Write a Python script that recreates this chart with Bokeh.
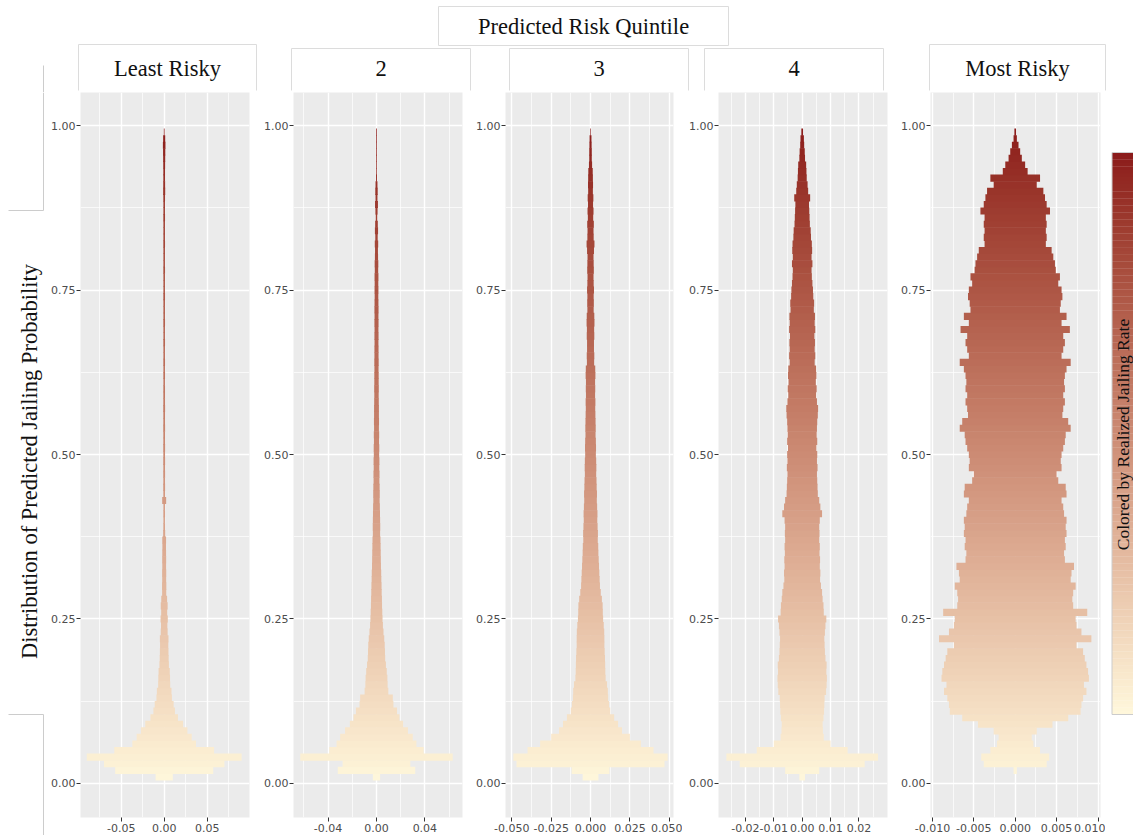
import math
from bokeh.plotting import figure
from bokeh.models import Range1d, FixedTicker, NumeralTickFormatter, ColumnDataSource
from bokeh.layouts import row, column
from bokeh.core.properties import value
from bokeh.embed import file_html
from bokeh.resources import INLINE

# ---------------- data ----------------
title_text = "Predicted Risk Quintile"
y_axis_title = "Distribution of Predicted Jailing Probability"
colorbar_title = "Colored by Realized Jailing Rate"
quintile_labels = ["Least Risky", "2", "3", "4", "Most Risky"]

# predicted jailing probability bins (centres)
y_bins = [0.01, 0.02, 0.03, 0.04, 0.05, 0.06, 0.07, 0.08, 0.09, 0.10,
          0.11, 0.12, 0.13, 0.14, 0.15, 0.16, 0.17, 0.18, 0.19, 0.20,
          0.21, 0.22, 0.23, 0.24, 0.25, 0.26, 0.27, 0.28, 0.29, 0.30,
          0.31, 0.32, 0.33, 0.34, 0.35, 0.36, 0.37, 0.38, 0.39, 0.40,
          0.41, 0.42, 0.43, 0.44, 0.45, 0.46, 0.47, 0.48, 0.49, 0.50,
          0.51, 0.52, 0.53, 0.54, 0.55, 0.56, 0.57, 0.58, 0.59, 0.60,
          0.61, 0.62, 0.63, 0.64, 0.65, 0.66, 0.67, 0.68, 0.69, 0.70,
          0.71, 0.72, 0.73, 0.74, 0.75, 0.76, 0.77, 0.78, 0.79, 0.80,
          0.81, 0.82, 0.83, 0.84, 0.85, 0.86, 0.87, 0.88, 0.89, 0.90,
          0.91, 0.92, 0.93, 0.94, 0.95, 0.96, 0.97, 0.98, 0.99]

# half-width of the distribution at each bin (one list per quintile)
half_width_q1 = [0.010, 0.057, 0.070, 0.090, 0.058, 0.037, 0.032, 0.027, 0.022, 0.016,
                 0.0125, 0.0110, 0.0090, 0.0085, 0.0070, 0.0068, 0.0065, 0.0055, 0.0052, 0.0050,
                 0.0048, 0.0050, 0.0040, 0.0037, 0.0042, 0.0035, 0.0040, 0.0034, 0.0024, 0.0025,
                 0.0023, 0.0024, 0.0022, 0.0023, 0.0022, 0.0021, 0.0022, 0.0012, 0.0010, 0.0009,
                 0.0010, 0.0009, 0.0023, 0.0010, 0.0011, 0.0010, 0.0011, 0.0010, 0.0011, 0.0010,
                 0.0011, 0.0010, 0.0010, 0.0011, 0.0010, 0.0010, 0.0011, 0.0010, 0.0010, 0.0010,
                 0.0009, 0.0010, 0.0009, 0.0010, 0.0009, 0.0009, 0.0010, 0.0009, 0.0009, 0.0010,
                 0.0009, 0.0009, 0.0009, 0.0010, 0.0009, 0.0009, 0.0009, 0.0010, 0.0009, 0.0009,
                 0.0009, 0.0010, 0.0009, 0.0009, 0.0009, 0.0010, 0.0009, 0.0009, 0.0010, 0.0012,
                 0.0011, 0.0010, 0.0010, 0.0011, 0.0012, 0.0013, 0.0015, 0.0012, 0.0004]

half_width_q2 = [0.0030, 0.0320, 0.0280, 0.0630, 0.0390, 0.0330, 0.0300, 0.0260, 0.0220, 0.0190,
                 0.0170, 0.0140, 0.0135, 0.0098, 0.0092, 0.0090, 0.0085, 0.0078, 0.0072, 0.0070,
                 0.0068, 0.0064, 0.0058, 0.0053, 0.0050, 0.0048, 0.0046, 0.0045, 0.0043, 0.0042,
                 0.0040, 0.0039, 0.0037, 0.0036, 0.0035, 0.0034, 0.0033, 0.0030, 0.0031, 0.0030,
                 0.0029, 0.0028, 0.0026, 0.0027, 0.0026, 0.0024, 0.0025, 0.0023, 0.0024, 0.0022,
                 0.0023, 0.0021, 0.0022, 0.0020, 0.0021, 0.0020, 0.0020, 0.0019, 0.0018, 0.0019,
                 0.0018, 0.0018, 0.0017, 0.0018, 0.0017, 0.0017, 0.0016, 0.0017, 0.0016, 0.0017,
                 0.0016, 0.0017, 0.0016, 0.0015, 0.0016, 0.0015, 0.0016, 0.0014, 0.0015, 0.0013,
                 0.0012, 0.0014, 0.0010, 0.0013, 0.0011, 0.0006, 0.0009, 0.0012, 0.0008, 0.0010,
                 0.0008, 0.0004, 0.0003, 0.0003, 0.0003, 0.0003, 0.0003, 0.0003, 0.0003]

half_width_q3 = [0.0050, 0.0120, 0.0470, 0.0490, 0.0400, 0.0320, 0.0250, 0.0200, 0.0175, 0.0150,
                 0.0125, 0.0118, 0.0112, 0.0110, 0.0105, 0.0096, 0.0094, 0.0093, 0.0092, 0.0090,
                 0.0088, 0.0088, 0.0087, 0.0084, 0.0080, 0.0078, 0.0077, 0.0072, 0.0065, 0.0060,
                 0.0058, 0.0056, 0.0054, 0.0052, 0.0050, 0.0049, 0.0046, 0.0047, 0.0045, 0.0043,
                 0.0044, 0.0042, 0.0040, 0.0041, 0.0039, 0.0038, 0.0036, 0.0037, 0.0036, 0.0034,
                 0.0035, 0.0034, 0.0032, 0.0033, 0.0032, 0.0031, 0.0030, 0.0031, 0.0029, 0.0030,
                 0.0029, 0.0031, 0.0030, 0.0023, 0.0024, 0.0022, 0.0022, 0.0024, 0.0023, 0.0025,
                 0.0024, 0.0020, 0.0021, 0.0020, 0.0022, 0.0020, 0.0019, 0.0021, 0.0020, 0.0019,
                 0.0022, 0.0025, 0.0020, 0.0019, 0.0021, 0.0017, 0.0019, 0.0016, 0.0018, 0.0015,
                 0.0016, 0.0015, 0.0014, 0.0010, 0.0008, 0.0008, 0.0007, 0.0006, 0.0002]

half_width_q4 = [0.0010, 0.0060, 0.0220, 0.0267, 0.0160, 0.0100, 0.0076, 0.0073, 0.0072, 0.0075,
                 0.0077, 0.0078, 0.0079, 0.0084, 0.0086, 0.0087, 0.0085, 0.0086, 0.0082, 0.0080,
                 0.0079, 0.0078, 0.0080, 0.0082, 0.0085, 0.0076, 0.0075, 0.0072, 0.0070, 0.0066,
                 0.0063, 0.0064, 0.0062, 0.0063, 0.0061, 0.0062, 0.0060, 0.0061, 0.0060, 0.0062,
                 0.0070, 0.0064, 0.0060, 0.0055, 0.0054, 0.0053, 0.0052, 0.0054, 0.0052, 0.0053,
                 0.0050, 0.0053, 0.0051, 0.0052, 0.0053, 0.0055, 0.0056, 0.0052, 0.0049, 0.0051,
                 0.0048, 0.0050, 0.0049, 0.0044, 0.0046, 0.0044, 0.0045, 0.0043, 0.0046, 0.0044,
                 0.0045, 0.0041, 0.0042, 0.0039, 0.0038, 0.0036, 0.0034, 0.0033, 0.0036, 0.0033,
                 0.0035, 0.0034, 0.0031, 0.0030, 0.0027, 0.0026, 0.0025, 0.0024, 0.0028, 0.0021,
                 0.0019, 0.0016, 0.0015, 0.0014, 0.0010, 0.0009, 0.0007, 0.0006, 0.0003]

half_width_q5 = [0.0000, 0.0002, 0.0038, 0.0041, 0.0030, 0.0022, 0.0020, 0.0026, 0.0045, 0.0064,
                 0.0079, 0.0080, 0.0082, 0.0086, 0.0083, 0.0089, 0.0088, 0.0086, 0.0084, 0.0082,
                 0.0074, 0.0092, 0.0080, 0.0074, 0.0073, 0.0087, 0.0070, 0.0069, 0.0070, 0.0073,
                 0.0067, 0.0068, 0.0071, 0.0060, 0.0059, 0.0061, 0.0060, 0.0062, 0.0061, 0.0062,
                 0.0059, 0.0058, 0.0056, 0.0062, 0.0061, 0.0052, 0.0050, 0.0056, 0.0055, 0.0056,
                 0.0058, 0.0060, 0.0061, 0.0067, 0.0064, 0.0057, 0.0058, 0.0060, 0.0058, 0.0060,
                 0.0059, 0.0060, 0.0062, 0.0067, 0.0056, 0.0058, 0.0060, 0.0058, 0.0066, 0.0056,
                 0.0062, 0.0054, 0.0055, 0.0057, 0.0056, 0.0052, 0.0054, 0.0049, 0.0048, 0.0046,
                 0.0044, 0.0037, 0.0038, 0.0037, 0.0038, 0.0037, 0.0042, 0.0038, 0.0036, 0.0034,
                 0.0026, 0.0030, 0.0015, 0.0012, 0.0008, 0.0006, 0.0004, 0.0002, 0.0001]

half_widths = [half_width_q1, half_width_q2, half_width_q3, half_width_q4, half_width_q5]

# axes
x_limits = [(-0.0973, 0.0992), (-0.0686, 0.0711), (-0.0540, 0.0527),
            (-0.02947, 0.03004), (-0.01023, 0.01030)]
x_ticks = [[-0.05, 0.0, 0.05], [-0.04, 0.0, 0.04], [-0.05, -0.025, 0.0, 0.025, 0.05],
           [-0.02, -0.01, 0.0, 0.01, 0.02], [-0.01, -0.005, 0.0, 0.005, 0.01]]
x_minor = [[-0.075, -0.025, 0.025, 0.075], [-0.06, -0.02, 0.02, 0.06],
           [-0.0375, -0.0125, 0.0125, 0.0375], [-0.025, -0.015, -0.005, 0.005, 0.015, 0.025],
           [-0.0075, -0.0025, 0.0025, 0.0075]]
x_formats = ["0.00", "0.00", "0.000", "0.00", "0.000"]
y_limits = (-0.0517, 1.0502)
y_ticks = [0.0, 0.25, 0.5, 0.75, 1.0]
y_minor = [0.125, 0.375, 0.625, 0.875]
rate_domain = (0.0, 1.0)
bin_height = 0.01

# ---------------- colour scale (Lab interpolation, like ggplot) ----------------
LOW, HIGH = "#FFF8DC", "#8B1A1A"
WHITE = (0.95047, 1.0, 1.08883)


def _lin(c):
    c = c / 255.0
    return c / 12.92 if c <= 0.04045 else ((c + 0.055) / 1.055) ** 2.4


def _gam(c):
    c = max(0.0, c)
    c = 12.92 * c if c <= 0.0031308 else 1.055 * c ** (1 / 2.4) - 0.055
    return int(min(255, max(0, round(c * 255))))


def _f(t):
    d = 6 / 29
    return t ** (1 / 3) if t > d ** 3 else t / (3 * d * d) + 4 / 29


def _finv(t):
    d = 6 / 29
    return t ** 3 if t > d else 3 * d * d * (t - 4 / 29)


def to_lab(h):
    r, g, b = [_lin(int(h[i:i + 2], 16)) for i in (1, 3, 5)]
    X = 0.4124564 * r + 0.3575761 * g + 0.1804375 * b
    Y = 0.2126729 * r + 0.7151522 * g + 0.0721750 * b
    Z = 0.0193339 * r + 0.1191920 * g + 0.9503041 * b
    fx, fy, fz = _f(X / WHITE[0]), _f(Y / WHITE[1]), _f(Z / WHITE[2])
    return (116 * fy - 16, 500 * (fx - fy), 200 * (fy - fz))


def from_lab(L, a, b):
    fy = (L + 16) / 116
    fx = fy + a / 500
    fz = fy - b / 200
    X, Y, Z = WHITE[0] * _finv(fx), WHITE[1] * _finv(fy), WHITE[2] * _finv(fz)
    r = 3.2404542 * X - 1.5371385 * Y - 0.4985314 * Z
    g = -0.9692660 * X + 1.8760108 * Y + 0.0415560 * Z
    bb = 0.0556434 * X - 0.2040259 * Y + 1.0572252 * Z
    return "#%02x%02x%02x" % (_gam(r), _gam(g), _gam(bb))


LAB_LO, LAB_HI = to_lab(LOW), to_lab(HIGH)


def rate_color(v):
    t = (v - rate_domain[0]) / (rate_domain[1] - rate_domain[0])
    t = min(1.0, max(0.0, t))
    return from_lab(*[lo + (hi - lo) * t for lo, hi in zip(LAB_LO, LAB_HI)])


# ---------------- layout constants (pixels) ----------------
HEADER_H = 92
ROW_H = 835 - HEADER_H
BOTTOM_B = 18
panel_borders = [(35, 169, 8), (36, 169, 7), (36, 168, 9), (36, 169, 7), (36, 170, 5)]
SERIF = "Liberation Serif"
TEXT_COL = "#111111"
BOX_COL = "#dcdcdc"


def blank(width, height, xr, yr):
    p = figure(width=width, height=height, x_range=Range1d(*xr), y_range=Range1d(*yr),
               output_backend="svg", toolbar_location=None,
               x_axis_location=None, y_axis_location=None, min_border=0)
    p.grid.visible = False
    p.outline_line_color = None
    p.background_fill_color = "white"
    p.border_fill_color = "white"
    p.frame_align = False
    return p


# header (strips + overall title); y is negative page-y
header = blank(1133, HEADER_H, (0, 1133), (-HEADER_H, 0))
title_box = (438, 728, 6, 45)
strip_boxes = [(78, 256, 44), (291, 470, 48), (509, 688, 48), (704, 883, 48), (929, 1105, 44)]
strip_bottom = 90
header.quad(left=[title_box[0]], right=[title_box[1]], top=[-title_box[2]], bottom=[-title_box[3]],
            fill_color="white", line_color=BOX_COL, line_width=1)
header.multi_line(xs=[[l, l, r, r] for l, r, t in strip_boxes],
                  ys=[[-strip_bottom, -t, -t, -strip_bottom] for l, r, t in strip_boxes],
                  line_color=BOX_COL, line_width=1)
header.segment(x0=[43], y0=[-65], x1=[43], y1=[-HEADER_H], line_color="#cccccc", line_width=1)
header.text(x=[(title_box[0] + title_box[1]) / 2], y=[-26], text=[title_text],
            text_font=value(SERIF), text_font_size="22.5px", text_color=TEXT_COL,
            text_align="center", text_baseline="alphabetic")
header.text(x=[(l + r) / 2 for l, r, t in strip_boxes], y=[-68] * 5, text=quintile_labels,
            text_font=value(SERIF), text_font_size="22.5px", text_color=TEXT_COL,
            text_align="center", text_baseline="alphabetic")

# left column with the y title
left = blank(45, ROW_H, (0, 45), (-835, -HEADER_H))
left.multi_line(xs=[[43, 43, 8], [8, 43, 43]], ys=[[-HEADER_H, -210, -210], [-714, -714, -835]],
                line_color="#cccccc", line_width=1)
left.text(x=[29], y=[-461], text=[y_axis_title], angle=math.pi / 2,
          text_font=value(SERIF), text_font_size="22.5px", text_color=TEXT_COL,
          text_align="center", text_baseline="alphabetic")

# panels
panels = []
for i in range(5):
    lb, fw, rb = panel_borders[i]
    p = figure(width=lb + fw + rb, height=ROW_H, x_range=Range1d(*x_limits[i]),
               y_range=Range1d(*y_limits), output_backend="svg", toolbar_location=None,
               min_border_left=lb, min_border_right=rb, min_border_top=0,
               min_border_bottom=BOTTOM_B)
    p.background_fill_color = "#EBEBEB"
    p.border_fill_color = "white"
    p.outline_line_color = None

    xt = FixedTicker(ticks=x_ticks[i], minor_ticks=x_minor[i])
    yt = FixedTicker(ticks=y_ticks, minor_ticks=y_minor)
    p.xaxis.ticker = xt
    p.xgrid.ticker = xt
    p.yaxis.ticker = yt
    p.ygrid.ticker = yt
    p.xaxis.formatter = NumeralTickFormatter(format=x_formats[i])
    p.yaxis.formatter = NumeralTickFormatter(format="0.00")
    p.grid.grid_line_color = "white"
    p.grid.grid_line_width = 1.4
    p.grid.minor_grid_line_color = "white"
    p.grid.minor_grid_line_width = 0.7
    p.axis.axis_line_color = None
    p.axis.major_tick_line_color = "#333333"
    p.axis.major_tick_in = 0
    p.axis.major_tick_out = 4
    p.axis.minor_tick_line_color = None
    p.axis.major_label_text_font = "DejaVu Sans"
    p.axis.major_label_text_font_size = "11px"
    p.axis.major_label_text_color = "#4D4D4D"
    p.xaxis.major_label_standoff = 2
    p.yaxis.major_label_standoff = 1

    ys, hw = [], []
    for y, w in zip(y_bins, half_widths[i]):
        if w > 0:
            ys.append(y)
            hw.append(w)
    src = ColumnDataSource(dict(
        left=[-w for w in hw], right=hw,
        bottom=[y - bin_height / 2 - 0.0004 for y in ys],
        top=[y + bin_height / 2 + 0.0004 for y in ys],
        color=[rate_color(y) for y in ys]))
    p.quad(left="left", right="right", bottom="bottom", top="top", source=src,
           fill_color="color", line_color=None)
    panels.append(p)

# colour bar column
cbar = blank(28, ROW_H, (1105, 1133), (-835, -HEADER_H))
cb_top, cb_bot, cb_left = 152, 714, 1111.5
steps = 160
edges = [cb_top + (cb_bot - cb_top) * k / steps for k in range(steps + 1)]
cbar.quad(left=[cb_left] * steps, right=[1140] * steps,
          top=[-edges[k] for k in range(steps)], bottom=[-edges[k + 1] - 0.3 for k in range(steps)],
          fill_color=[rate_color(rate_domain[1] - (k + 0.5) / steps * (rate_domain[1] - rate_domain[0]))
                      for k in range(steps)], line_color=None)
cbar.quad(left=[cb_left], right=[1140], top=[-cb_top], bottom=[-cb_bot],
          fill_color=None, line_color="#cccccc", line_width=1)
cbar.text(x=[1122], y=[-434], text=[colorbar_title], angle=math.pi / 2,
          text_font=value(SERIF), text_font_size="17.5px", text_color=TEXT_COL,
          text_align="center", text_baseline="alphabetic")

layout = column(header, row(left, *panels, cbar))
open("out.html", "w").write(file_html(layout, INLINE))
